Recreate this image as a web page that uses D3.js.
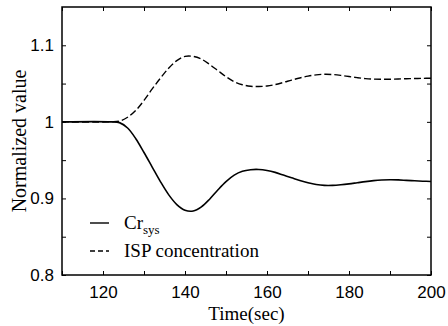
<!DOCTYPE html>
<html>
<head>
<meta charset="utf-8">
<script src="https://cdn.jsdelivr.net/npm/d3@7"></script>
<style>
  body { margin: 0; background: #fff; }
</style>
</head>
<body>
<div id="chart"></div>
<script>
// time (sec)
var time = [110, 122, 124, 126, 128, 130, 132, 134, 136, 138, 140, 142, 144, 146, 148, 150,
    152, 154, 156, 158, 160, 162, 164, 166, 168, 170, 172, 174, 176, 178, 180,
    182, 184, 186, 188, 190, 192, 194, 196, 198, 200];

// Cr_sys normalized
var crSys = [1, 1, 0.999, 0.992, 0.978, 0.96, 0.941, 0.922, 0.905, 0.892, 0.8845, 0.8835, 0.889, 0.899, 0.911, 0.922,
    0.9305, 0.9355, 0.9375, 0.9378, 0.9365, 0.934, 0.9305, 0.927, 0.9235, 0.9205, 0.9182, 0.917, 0.917, 0.9178, 0.919,
    0.9205, 0.922, 0.9232, 0.924, 0.9244, 0.9242, 0.9236, 0.923, 0.9225, 0.9222];

// ISP concentration normalized
var isp = [1, 1, 1.001, 1.006, 1.015, 1.028, 1.043, 1.057, 1.07, 1.08, 1.0855, 1.0855, 1.082, 1.075, 1.067, 1.059,
    1.0525, 1.0485, 1.0465, 1.0461, 1.0468, 1.0487, 1.0515, 1.0545, 1.0573, 1.0597, 1.0614, 1.0621, 1.0618, 1.0607, 1.0592,
    1.0577, 1.0565, 1.0558, 1.0556, 1.0557, 1.056, 1.0563, 1.0566, 1.0568, 1.057];

var xTicks = [120, 140, 160, 180, 200];
var xMinor = [110, 130, 150, 170, 190];
var yTicks = [0.8, 0.9, 1, 1.1];
var yMinor = [0.85, 0.95, 1.05];

var SANS = "'Liberation Sans', Arial, Helvetica, sans-serif";
var SERIF = "'Liberation Serif', 'DejaVu Serif', serif";

var W = 448, H = 326;
var margin = {top: 7, right: 17, bottom: 51, left: 62};
var width = W - margin.left - margin.right;
var height = H - margin.top - margin.bottom;

var svg = d3.select("#chart").append("svg")
    .attr("width", W)
    .attr("height", H);

var g = svg.append("g")
    .attr("transform", "translate(" + margin.left + "," + margin.top + ")");

var x = d3.scaleLinear().domain([110, 200]).range([0, width]);
var y = d3.scaleLinear().domain([0.8, 1.15]).range([height, 0]);

var fmt = function (d) { return d === 1 ? "1" : d3.format(".1f")(d); };

// bottom axis
g.append("g")
    .attr("transform", "translate(0," + height + ")")
    .call(d3.axisBottom(x).tickValues(xTicks.concat(xMinor)).tickSizeInner(-4).tickSizeOuter(0)
        .tickFormat(function (d) { return xTicks.indexOf(d) >= 0 ? d : ""; }))
    .call(function (a) {
        a.select(".domain").remove();
        a.selectAll(".tick text").attr("y", 11).attr("dy", "0.71em");
    });

// top axis
g.append("g")
    .call(d3.axisTop(x).tickValues(xTicks.concat(xMinor)).tickSizeInner(-4).tickSizeOuter(0).tickFormat(""))
    .call(function (a) { a.select(".domain").remove(); });

// left axis
g.append("g")
    .call(d3.axisLeft(y).tickValues(yTicks.concat(yMinor)).tickSizeInner(-4).tickSizeOuter(0)
        .tickFormat(function (d) { return yTicks.indexOf(d) >= 0 ? fmt(d) : ""; }))
    .call(function (a) {
        a.select(".domain").remove();
        a.selectAll(".tick text").attr("x", -8);
    });

// right axis
g.append("g")
    .attr("transform", "translate(" + width + ",0)")
    .call(d3.axisRight(y).tickValues(yTicks.concat(yMinor)).tickSizeInner(-4).tickSizeOuter(0).tickFormat(""))
    .call(function (a) { a.select(".domain").remove(); });

g.selectAll(".tick line").attr("stroke", "#000").attr("stroke-width", 1);
g.selectAll(".tick text")
    .attr("fill", "#000")
    .attr("font-family", SANS)
    .attr("font-size", 17);

// frame
g.append("rect")
    .attr("width", width)
    .attr("height", height)
    .attr("fill", "none")
    .attr("stroke", "#000")
    .attr("stroke-width", 1.5);

var line = d3.line()
    .x(function (d) { return x(d[0]); })
    .y(function (d) { return y(d[1]); })
    .curve(d3.curveCatmullRom.alpha(0.5));

g.append("path")
    .datum(d3.zip(time, crSys))
    .attr("d", line)
    .attr("fill", "none")
    .attr("stroke", "#000")
    .attr("stroke-width", 1.6);

g.append("path")
    .datum(d3.zip(time, isp))
    .attr("d", line)
    .attr("fill", "none")
    .attr("stroke", "#000")
    .attr("stroke-width", 1.4)
    .attr("stroke-dasharray", "7,3");

// legend
var leg = svg.append("g");
leg.append("line").attr("x1", 90).attr("x2", 109).attr("y1", 223).attr("y2", 223)
    .attr("stroke", "#000").attr("stroke-width", 1.4);
leg.append("line").attr("x1", 90).attr("x2", 109).attr("y1", 251).attr("y2", 251)
    .attr("stroke", "#000").attr("stroke-width", 1.4).attr("stroke-dasharray", "5,3");

var t1 = leg.append("text").attr("x", 124).attr("y", 229)
    .attr("font-family", SERIF).attr("font-size", 19);
t1.append("tspan").text("Cr");
t1.append("tspan").attr("dy", 5).attr("font-size", 13).text("sys");

leg.append("text").attr("x", 124).attr("y", 257)
    .attr("font-family", SERIF).attr("font-size", 19)
    .text("ISP concentration");

// axis titles
svg.append("text")
    .attr("x", margin.left + width / 2)
    .attr("y", 320)
    .attr("text-anchor", "middle")
    .attr("font-family", SERIF)
    .attr("font-size", 19)
    .text("Time(sec)");

svg.append("text")
    .attr("transform", "translate(26," + 141 + ") rotate(-90)")
    .attr("text-anchor", "middle")
    .attr("font-family", SERIF)
    .attr("font-size", 20)
    .text("Normalized value");
</script>
</body>
</html>
